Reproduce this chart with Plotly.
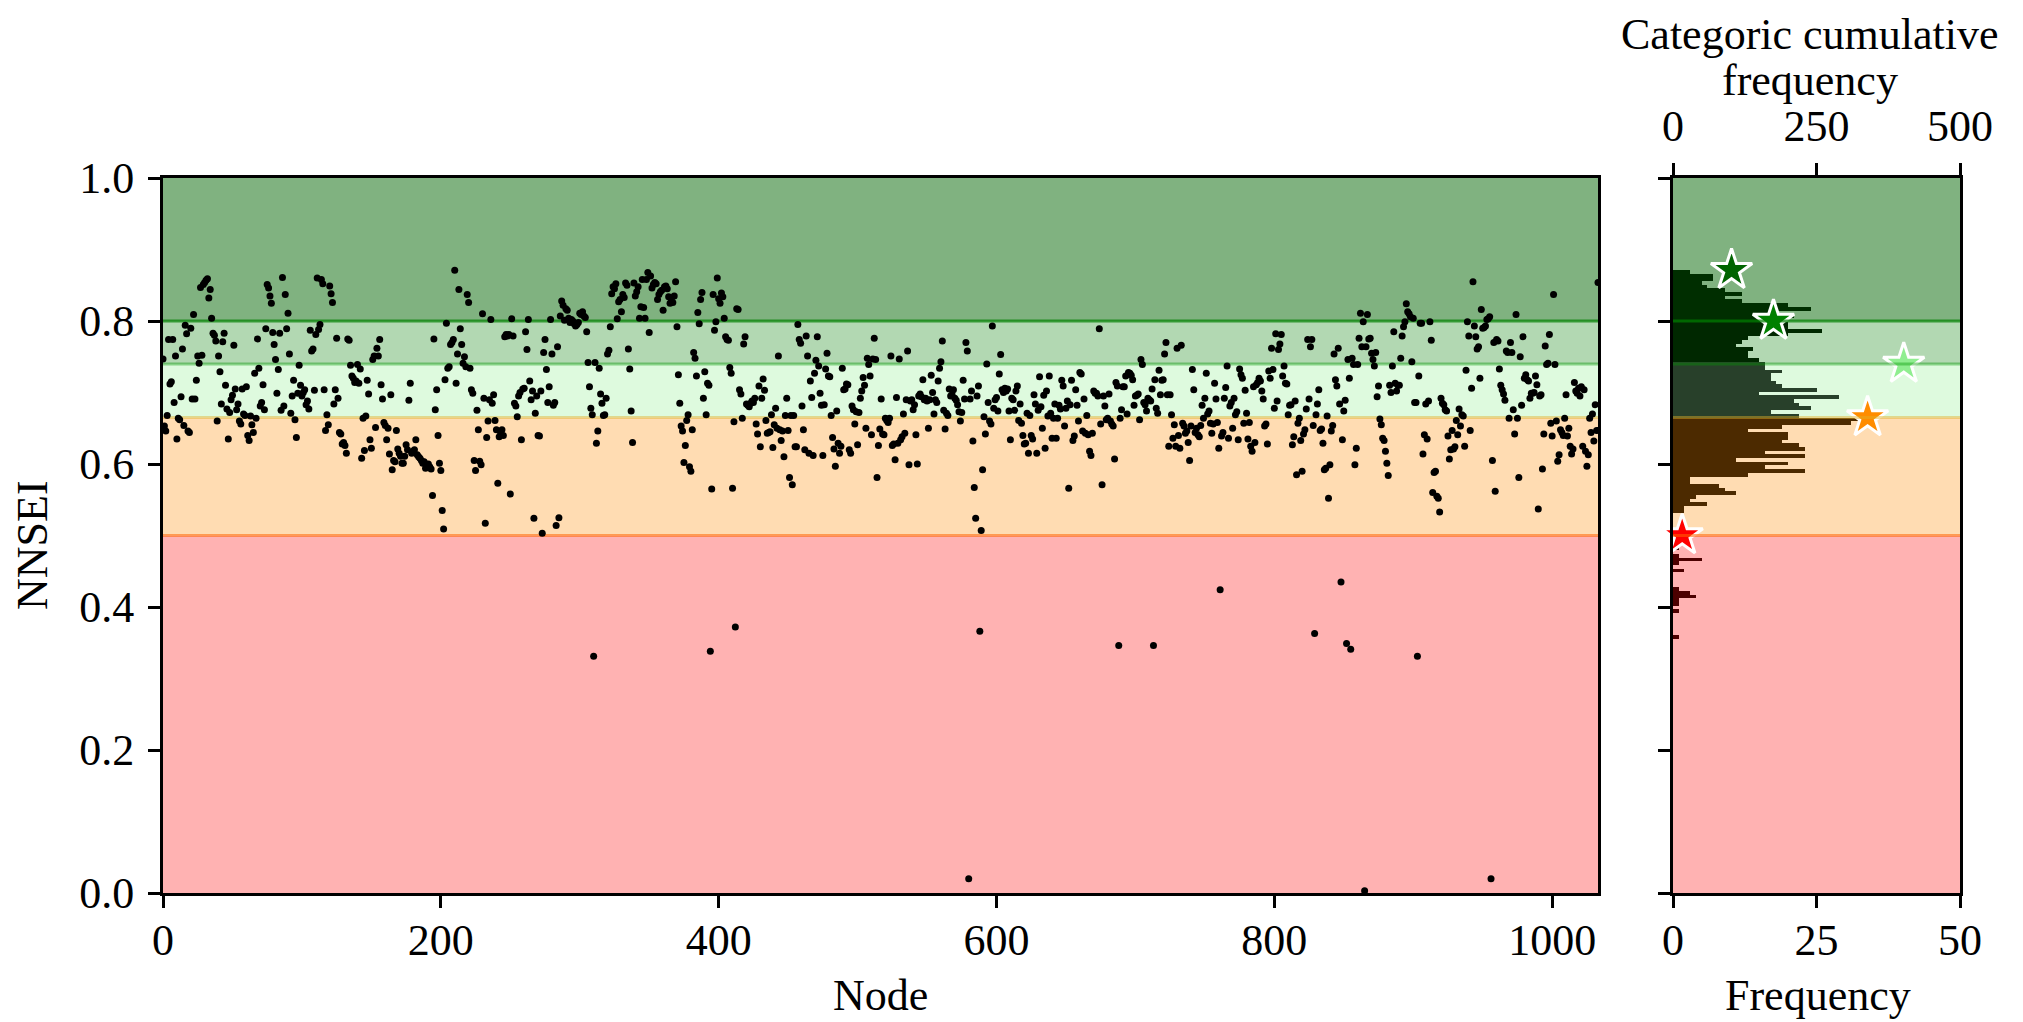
import numpy as np
import plotly.graph_objects as go

# ---------------- data ----------------
nnsei_part1 = [.747, .653, .646, .668, .774, .712, .715, .774, .686, .751, .635,
    .664, .662, .694, .761, .654, .794, .782, .646, .644, .790,
    .691, .809, .691, .717, .751, .741, .847, .752, .851, .854, .857,
    .859, .832, .844, .804, .783, .780, .772, .660, .751, .729,
    .684, .771, .783, .710, .677, .635, .672, .690, .696, .766, .705,
    .676, .684, .660, .656, .705, .670, .668, .708, .640, .633, .667,
    .655, .644, .727, .664, .775, .734, .681, .686, .711, .676, .789,
    .851, .846, .835, .825, .784, .767, .746, .699, .732, .783,
    .675, .861, .681, .837, .789, .811, .754, .671, .695, .717,
    .662, .637, .699, .738, .710, .695, .700, .704, .683, .688, .677, .787,
    .758, .761, .703, .781, .860, .788, .795, .858, .852, .704,
    .647, .669, .655, .849, .838, .826, .684, .704, .776, .692,
    .644, .642, .628, .630, .626, .615, .775, .773, .738, .723, .720,
    .714, .716, .739, .713, .733, .608, .664, .619, .667, .717, .698,
    .634, .622, .746, .751, .651, .762, .751, .774, .711, .691,
    .658, .654, .634, .650, .614, .697, .592, .605, .603, .647, .621,
    .615, .611, .601]

nnsei_part2 = [.601, .611, .627, .620, .689, .713, .615, .618, .620, .634, .613, .610,
    .608, .605, .601, .603, .594, .598, .600, .596, .593, .556,
    .775, .676, .704, .640, .601, .591, .535, .509, .718, .797,
    .734, .736, .767, .770, .774, .871, .713, .754, .844, .789,
    .767, .741, .750, .736, .837, .826, .734, .704, .699, .605,
    .591, .675, .648, .604, .599, .810, .692, .517, .637, .660,
    .690, .802, .685, .697, .661, .648, .573, .638, .644, .648,
    .640, .778, .781, .779, .781, .558, .803, .779, .685, .681,
    .666, .695, .700, .634, .705, .706, .785, .760, .802, .716, .690,
    .702, .524, .671, .695, .640, .639, .702, .503, .756, .774,
    .732, .686, .708, .802, .754, .682, .686, .514, .764, .525,
    .807, .828, .822, .801, .817, .815, .804, .798, .802, .800, .796,
    .793, .795, .798, .811, .809, .813, .807, .805, .785, .742, .708,
    .678, .669, .331, .742, .629, .646, .734, .698, .685, .668,
    .669, .692, .754, .759, .792, .838, .848, .845, .852, .803,
    .827, .830, .813, .837, .833, .853, .850, .761, .733, .674, .630,
    .853, .835, .841, .848, .804, .820, .858]

nnsei_part3 = [.819, .804, .858, .868, .784, .863, .846, .851, .854, .852,
    .830, .837, .841, .843, .815, .848, .849, .845, .834, .825, .828,
    .826, .835, .855, .792, .725, .685, .653, .646, .602, .626,
    .661, .669, .596, .590, .648, .756, .748, .723, .812, .796,
    .830, .840, .692, .729, .669, .713, .710, .338, .565, .837,
    .787, .799, .860, .831, .825, .839, .834, .804, .778, .774,
    .773, .735, .727, .566, .659, .372, .817, .816, .704, .698,
    .664, .768, .778, .684, .682, .680, .685, .688, .686, .692,
    .656, .642, .709, .624, .692, .719, .703, .661, .643, .644,
    .645, .669, .623, .655, .678, .650, .751, .648, .633, .646,
    .610, .668, .692, .647, .581, .668, .571, .668, .624, .624,
    .795, .774, .769, .681, .648, .620, .779, .751, .615, .716,
    .693, .612, .727, .745, .778, .737, .699, .682, .612, .683,
    .733, .755, .723, .722, .668, .637, .621, .597, .674, .629,
    .615, .625, .734, .704, .705, .712, .711, .620, .615, .681,
    .676, .656, .673, .627, .672, .692, .702, .721, .710, .650,
    .748, .739, .723, .641, .747, .776, .746, .581, .626, .649,
    .691, .642]

nnsei_part4 = [.641, .664, .661, .658, .664, .751, .626, .628, .606, .693,
    .629, .747, .634, .638, .670, .643, .690, .758, .599, .688,
    .690, .676, .683, .641, .600, .695, .698, .694, .718, .690,
    .692, .688, .650, .690, .724, .700, .670, .690, .686, .716,
    .734, .743, .772, .675, .649, .671, .668, .705, .695, .697,
    .704, .692, .689, .683, .673, .660, .672, .717, .691, .770,
    .758, .020, .691, .702, .632, .567, .524, .695, .709, .366,
    .507, .592, .666, .642, .740, .686, .660, .656, .793, .678,
    .690, .693, .674, .726, .753, .704, .700, .706, .702, .705,
    .674, .634, .692, .690, .675, .702, .709, .661, .684, .657,
    .640, .628, .629, .671, .615, .668, .640, .635, .697, .684,
    .615, .675, .722, .680, .650, .696, .622, .702, .667, .723,
    .671, .636, .664, .684, .636, .664, .682, .677, .717, .709,
    .653, .678, .688, .566, .683, .717, .633, .639, .704, .682,
    .660, .728, .726, .646, .691, .643, .668, .641, .618, .612,
    .643, .702, .699, .699, .695, .789, .656, .571, .695, .681,
    .662, .664, .698, .660, .656, .653, .607, .714, .709, .346,
    .664, .676, .708]

nnsei_part5 = [.708, .723, .670, .728, .727, .724, .718, .682, .695, .696,
    .698, .662, .746, .739, .686, .683, .674, .692, .690, .688,
    .705, .346, .718, .678, .671, .731, .697, .717, .718, .754,
    .770, .697, .625, .697, .669, .636, .655, .625, .762, .640,
    .622, .766, .657, .653, .643, .646, .630, .605, .653, .732,
    .704, .644, .650, .641, .638, .654, .682, .664, .692, .727,
    .670, .674, .657, .643, .656, .713, .691, .658, .622, .424,
    .639, .644, .692, .707, .737, .636, .681, .686, .650, .692,
    .669, .673, .634, .733, .725, .720, .657, .703, .671, .635,
    .658, .625, .618, .708, .630, .711, .714, .720, .716, .702,
    .691, .653, .656, .628, .730, .720, .762, .732, .678, .782,
    .688, .760, .768, .781, .723, .737, .713, .712, .669, .682,
    .683, .627, .638, .688, .585, .657, .664, .633, .590, .642,
    .648, .677, .774, .691, .764, .774, .654, .363, .669, .684,
    .704, .647, .649, .629, .592, .594, .667, .552, .599, .646,
    .654, .754, .718, .709, .762, .684, .435, .634, .674, .689,
    .349, .746, .720, .341, .748, .739, .599, .622, .739, .776,
    .811, .764, .799]

nnsei_part6 = [.003, .764, .809, .775, .776, .755, .746, .737, .756, .694,
    .709, .663, .655, .636, .633, .618, .601, .584, .710, .700,
    .737, .785, .713, .702, .710, .710, .748, .779, .792, .799,
    .824, .813, .810, .806, .743, .804, .686, .686, .331, .723,
    .797, .797, .614, .641, .684, .635, .688, .799, .773, .560,
    .588, .590, .555, .552, .533, .692, .685, .683, .676, .674,
    .639, .607, .620, .647, .621, .624, .661, .641, .677, .653,
    .669, .667, .625, .731, .799, .779, .647, .706, .855, .793,
    .778, .761, .764, .720, .816, .790, .791, .793, .802, .803,
    .806, .020, .605, .770, .562, .774, .772, .733, .710, .704,
    .698, .689, .758, .756, .664, .770, .756, .676, .642, .809,
    .664, .581, .750, .682, .778, .720, .725, .718, .716, .692,
    .699, .699, .700, .723, .711, .537, .695, .697, .593, .642,
    .765, .739, .741, .781, .657, .639, .837, .739, .660, .604,
    .613, .648, .644, .640, .664, .697, .639, .650, .625, .614,
    .621, .714, .702, .699, .706, .695, .708, .625, .704, .618,
    .597, .613, .664, .644, .670, .632, .683, .647, .854]

nnsei = (nnsei_part1 + nnsei_part2 + nnsei_part3 +
         nnsei_part4 + nnsei_part5 + nnsei_part6)
nodes = list(range(len(nnsei)))

# histogram of NNSEI (100 bins, listed from the top bin downwards)
hist_top = 0.8714
hist_bottom = 0.3555
hist_counts = [3, 7, 7, 5, 6, 9, 12, 9, 12, 20, 24, 18, 21, 19, 20, 20, 26, 20, 13, 12,
               11, 14, 13, 13, 15, 16, 16, 19, 17, 17, 18, 19, 25, 15, 29, 21, 22, 24, 17, 22,
               33, 31, 19, 13, 20, 20, 19, 22, 23, 16, 23, 11, 20, 16, 23, 13, 3, 3, 8, 9,
               11, 4, 3, 6, 2, 2, 0, 0, 0, 0, 0, 0, 0, 0, 0, 1, 0, 1, 5, 1,
               0, 2, 0, 0, 0, 0, 1, 3, 4, 1, 1, 0, 1, 0, 0, 0, 0, 0, 0, 1]

# categories
cat_bounds = [0.0, 0.5, 0.665, 0.74, 0.8, 1.0]
band_colors = ['rgb(255,178,178)', 'rgb(255,220,178)', 'rgb(222,250,222)',
               'rgb(178,216,178)', 'rgb(128,178,128)']
bar_colors = ['rgb(76,0,0)', 'rgb(76,42,0)', 'rgb(40,64,42)', 'rgb(0,40,0)', 'rgb(0,46,0)']
line_levels = [0.5, 0.665, 0.74, 0.8]
line_colors = ['rgba(255,100,0,0.55)', 'rgba(225,175,40,0.45)',
               'rgba(0,150,0,0.4)', 'rgba(0,128,0,0.7)']

star_levels = [0.871, 0.8, 0.74, 0.665, 0.5]
star_counts = [102, 175, 402, 339, 16]
star_colors = ['#006400', '#008000', '#90EE90', '#FF8C00', '#FF0000']

# ---------------- layout geometry (page pixels; body has 8px margin) ----------------
OFF = 8
W, H = 2023 - OFF, 1022 - OFF
PX0, PX1, PY0, PY1 = 163, 1960, 178, 893      # plot block in page pixels
L, T = PX0 - OFF, PY0 - OFF
R = W - (PX1 - OFF)
B = H - (PY1 - OFF)
PW, PH = PX1 - PX0, PY1 - PY0


def fx(p):
    return (p - PX0) / PW


def fy(p):
    return (PY1 - p) / PH


FONT = 'Liberation Serif'
FS = 44

fig = go.Figure()

fig.add_trace(go.Scatter(x=nodes, y=nnsei, mode='markers',
                         marker=dict(color='black', size=7, line=dict(width=0)),
                         xaxis='x', yaxis='y', showlegend=False))

nb = len(hist_counts)
bw = (hist_top - hist_bottom) / nb
centers = hist_top - (np.arange(nb) + 0.5) * bw


def cat_index(v):
    for i in range(len(cat_bounds) - 1):
        if cat_bounds[i] <= v < cat_bounds[i + 1]:
            return i
    return len(cat_bounds) - 2


colors = [bar_colors[cat_index(c)] for c in centers]
fig.add_trace(go.Bar(x=hist_counts, y=centers, orientation='h', width=bw,
                     marker=dict(color=colors, line=dict(width=0)),
                     xaxis='x2', yaxis='y2', showlegend=False))

fig.add_trace(go.Scatter(x=star_counts, y=star_levels, mode='markers',
                         marker=dict(symbol='star', size=31, color=star_colors,
                                     line=dict(color='white', width=3)),
                         xaxis='x3', yaxis='y2', cliponaxis=False, showlegend=False))

shapes = []
for xr, yr in (('x domain', 'y'), ('x2 domain', 'y2')):
    for i in range(len(band_colors)):
        shapes.append(dict(type='rect', xref=xr, yref=yr, x0=0, x1=1,
                           y0=cat_bounds[i], y1=cat_bounds[i + 1],
                           fillcolor=band_colors[i], line=dict(width=0), layer='below'))
for xr, yr, lay in (('x domain', 'y', 'below'), ('x2 domain', 'y2', 'above')):
    for lv, lc in zip(line_levels, line_colors):
        shapes.append(dict(type='line', xref=xr, yref=yr, x0=0, x1=1, y0=lv, y1=lv,
                           line=dict(color=lc, width=3), layer=lay))

axis_style = dict(showline=True, linecolor='black', linewidth=3, mirror=True,
                  ticks='outside', ticklen=12, tickwidth=3, tickcolor='black',
                  showgrid=False, zeroline=False,
                  tickfont=dict(family=FONT, size=FS, color='black'))

fig.update_layout(
    width=W, height=H,
    margin=dict(l=L, r=R, t=T, b=B, pad=0, autoexpand=False),
    paper_bgcolor='white', plot_bgcolor='white',
    font=dict(family=FONT, size=FS, color='black'),
    shapes=shapes,
    xaxis=dict(domain=[0, fx(1598)], range=[0, 1033], tickvals=[0, 200, 400, 600, 800, 1000],
               anchor='y', ticklabelstandoff=-6, **axis_style),
    yaxis=dict(domain=[0, 1], range=[0, 1], tickvals=[0, 0.2, 0.4, 0.6, 0.8, 1.0],
               tickformat='.1f', anchor='x', ticklabelstandoff=5, **axis_style),
    xaxis2=dict(domain=[fx(1673), 1], range=[0, 50], tickvals=[0, 25, 50],
                anchor='y2', ticklabelstandoff=-6, **axis_style),
    yaxis2=dict(domain=[0, 1], range=[0, 1], tickvals=[0, 0.2, 0.4, 0.6, 0.8, 1.0],
                showticklabels=False, anchor='x2', **axis_style),
    xaxis3=dict(overlaying='x2', side='top', range=[0, 500], tickvals=[0, 250, 500],
                anchor='y2', ticklabelstandoff=4, **axis_style),
    bargap=0,
    annotations=[
        dict(text='NNSEI', x=fx(32), y=fy(545), xref='paper', yref='paper',
             showarrow=False, textangle=-90, font=dict(family=FONT, size=FS),
             xanchor='center', yanchor='middle'),
        dict(text='Node', x=fx(880), y=fy(995), xref='paper', yref='paper',
             showarrow=False, font=dict(family=FONT, size=FS),
             xanchor='center', yanchor='middle'),
        dict(text='Frequency', x=fx(1818), y=fy(995), xref='paper', yref='paper',
             showarrow=False, font=dict(family=FONT, size=FS),
             xanchor='center', yanchor='middle'),
        dict(text='Categoric cumulative', x=fx(1810), y=fy(34), xref='paper', yref='paper',
             showarrow=False, font=dict(family=FONT, size=FS),
             xanchor='center', yanchor='middle'),
        dict(text='frequency', x=fx(1810), y=fy(80), xref='paper', yref='paper',
             showarrow=False, font=dict(family=FONT, size=FS),
             xanchor='center', yanchor='middle'),
    ],
)

fig.write_html('out.html')
